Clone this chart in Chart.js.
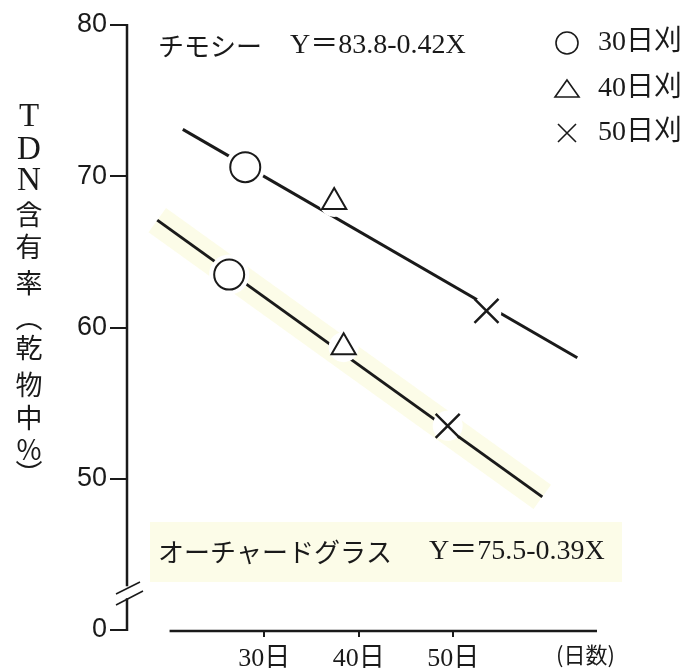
<!DOCTYPE html>
<html>
<head>
<meta charset="utf-8">
<script src="https://cdn.jsdelivr.net/npm/chart.js@4.4.0/dist/chart.umd.min.js"></script>
<style>
  body { margin: 0; background: #fff; }
</style>
</head>
<body>
<canvas id="tdnChart" width="689" height="672"></canvas>
<script>
// --- data ---
const harvestLabels = ['30日刈', '40日刈', '50日刈'];
const speciesNames = ['チモシー', 'オーチャードグラス'];
const equations = ['Y＝83.8-0.42X', 'Y＝75.5-0.39X'];

// regression lines (x = days, y = TDN %)
const timothyLine = [{x: 21.4, y: 73.1}, {x: 63.1, y: 58.0}];
const orchardLine = [{x: 18.7, y: 67.1}, {x: 59.4, y: 48.8}];

// measured points, one array per harvest stage: [timothy, orchard]
const harvest30 = [{x: 28.0, y: 70.6}, {x: 26.3, y: 63.5}];
const harvest40 = [{x: 37.4, y: 68.3}, {x: 38.4, y: 58.7}];
const harvest50 = [{x: 53.5, y: 61.1}, {x: 49.4, y: 53.5}];

// axis ticks (axis is broken: bottom tick stands for 0)
const xTickValues = [30, 40, 50];
const xTickLabels = ['30日', '40日', '50日'];
const yTickValues = [40, 50, 60, 70, 80];
const yTickLabels = ['0', '50', '60', '70', '80'];
const yTitleChars = ['T', 'D', 'N', '含', '有', '率', '︵', '乾', '物', '中', '％', '︶'];

const INK = '#1a1a1a';
const SERIF = '"Liberation Serif", "Noto Sans CJK JP", serif';
const JP = '"Noto Sans CJK JP", sans-serif';

const decor = {
  id: 'decor',
  beforeDatasetsDraw(chart) {
    const ctx = chart.ctx;
    ctx.save();
    // highlighter mark behind the orchard grass equation
    ctx.fillStyle = 'rgba(240,240,140,0.2)';
    ctx.fillRect(150, 522, 472, 60);
    ctx.restore();
  },
  afterDraw(chart) {
    const {ctx, chartArea, scales: {x, y}} = chart;
    ctx.save();
    ctx.strokeStyle = INK;
    ctx.fillStyle = INK;
    ctx.lineWidth = 2.5;

    // y axis with break
    const ax = chartArea.left;
    ctx.beginPath();
    ctx.moveTo(ax, chartArea.top - 1);
    ctx.lineTo(ax, y.getPixelForValue(42.9));
    ctx.moveTo(ax, y.getPixelForValue(42.1));
    ctx.lineTo(ax, chartArea.bottom + 1);
    ctx.stroke();
    ctx.lineWidth = 1.5;
    ctx.beginPath();
    ctx.moveTo(ax - 11, 594); ctx.lineTo(ax + 13, 582);
    ctx.moveTo(ax - 11, 605); ctx.lineTo(ax + 16, 591);
    ctx.stroke();

    // x axis line (starts away from the y axis)
    ctx.lineWidth = 2.5;
    ctx.beginPath();
    ctx.moveTo(x.getPixelForValue(20), chartArea.bottom + 1);
    ctx.lineTo(chartArea.right - 3, chartArea.bottom + 1);
    ctx.stroke();

    ctx.textBaseline = 'middle';
    ctx.textAlign = 'left';

    // unit label of x axis
    ctx.font = '22px ' + JP;
    ctx.fillText('(日数)', 556, 655);

    // vertical y title
    const titleY = [117, 150, 181, 215, 247, 283, 318, 348, 385, 418, 450, 474];
    ctx.textAlign = 'center';
    yTitleChars.forEach((c, i) => {
      ctx.font = /[A-Z]/.test(c) ? '33px "Liberation Serif", serif' : '27px ' + JP;
      ctx.fillText(c, 29, titleY[i]);
    });

    // species + equation
    ctx.textAlign = 'left';
    ctx.font = '26px ' + JP;
    ctx.fillText(speciesNames[0], 158, 46);
    ctx.fillText(speciesNames[1], 158, 552);
    ctx.font = '28px ' + SERIF;
    ctx.fillText(equations[0], 290, 46);
    ctx.fillText(equations[1], 429, 552);

    // legend
    const lx = 567;
    const rows = [43, 89, 133];
    ctx.lineWidth = 1.6;
    ctx.beginPath();
    ctx.arc(lx, rows[0], 11, 0, Math.PI * 2);
    ctx.stroke();
    ctx.beginPath();
    ctx.moveTo(lx, rows[1] - 9);
    ctx.lineTo(lx + 12, rows[1] + 8);
    ctx.lineTo(lx - 12, rows[1] + 8);
    ctx.closePath();
    ctx.stroke();
    ctx.beginPath();
    ctx.moveTo(lx - 9, rows[2] - 9); ctx.lineTo(lx + 9, rows[2] + 9);
    ctx.moveTo(lx + 9, rows[2] - 9); ctx.lineTo(lx - 9, rows[2] + 9);
    ctx.stroke();
    ctx.font = '28px ' + SERIF;
    harvestLabels.forEach((t, i) => ctx.fillText(t, 598, rows[i]));
    ctx.restore();
  }
};

const halo = (data, r) => ({
  data: data,
  pointStyle: 'circle',
  pointRadius: r,
  pointBackgroundColor: '#fff',
  pointBorderWidth: 0,
  showLine: false,
  order: 1
});

new Chart(document.getElementById('tdnChart'), {
  type: 'scatter',
  data: {
    datasets: [
      {label: harvestLabels[0], data: harvest30, pointStyle: 'circle', pointRadius: 15,
       pointBackgroundColor: '#fff', pointBorderColor: INK, pointBorderWidth: 2, order: 0},
      {label: harvestLabels[1], data: harvest40, pointStyle: 'triangle', pointRadius: 14,
       pointBackgroundColor: '#fff', pointBorderColor: INK, pointBorderWidth: 2, order: 0},
      {label: harvestLabels[2], data: harvest50, pointStyle: 'crossRot', pointRadius: 17,
       pointBorderColor: INK, pointBorderWidth: 2.5, order: 0},
      halo(harvest30, 20),
      halo(harvest40, 15),
      halo(harvest50, 15),
      {label: speciesNames[0], data: timothyLine, showLine: true, pointRadius: 0,
       borderColor: INK, borderWidth: 3, order: 2},
      {label: speciesNames[1], data: orchardLine, showLine: true, pointRadius: 0,
       borderColor: INK, borderWidth: 3, order: 2},
      // highlighter band along the orchard grass line
      {data: orchardLine, showLine: true, pointRadius: 0, borderCapStyle: 'butt',
       borderColor: 'rgba(235,235,110,0.16)', borderWidth: 30, order: 3}
    ]
  },
  options: {
    responsive: false,
    animation: false,
    events: [],
    layout: {autoPadding: false, padding: {left: 0, right: 89, top: 25, bottom: 0}},
    plugins: {legend: {display: false}, tooltip: {enabled: false}},
    scales: {
      x: {
        type: 'linear', min: 15.5, max: 65.5,
        afterBuildTicks: s => { s.ticks = xTickValues.map(v => ({value: v})); },
        afterFit: s => { s.height = 42; },
        ticks: {
          autoSkip: false, maxRotation: 0, padding: 7, color: INK,
          font: {family: SERIF, size: 26},
          callback: v => xTickLabels[xTickValues.indexOf(v)]
        },
        grid: {drawOnChartArea: false, tickLength: 7, color: INK, lineWidth: 2},
        border: {display: false}
      },
      y: {
        type: 'linear', min: 40, max: 80,
        afterBuildTicks: s => { s.ticks = yTickValues.map(v => ({value: v})); },
        afterFit: s => { s.width = 127; },
        ticks: {
          autoSkip: false, padding: 3, color: INK,
          font: {family: '"Liberation Sans", sans-serif', size: 27},
          callback: v => yTickLabels[yTickValues.indexOf(v)]
        },
        grid: {drawOnChartArea: false, tickLength: 17, color: INK, lineWidth: 2},
        border: {display: false}
      }
    }
  },
  plugins: [decor]
});
</script>
</body>
</html>
